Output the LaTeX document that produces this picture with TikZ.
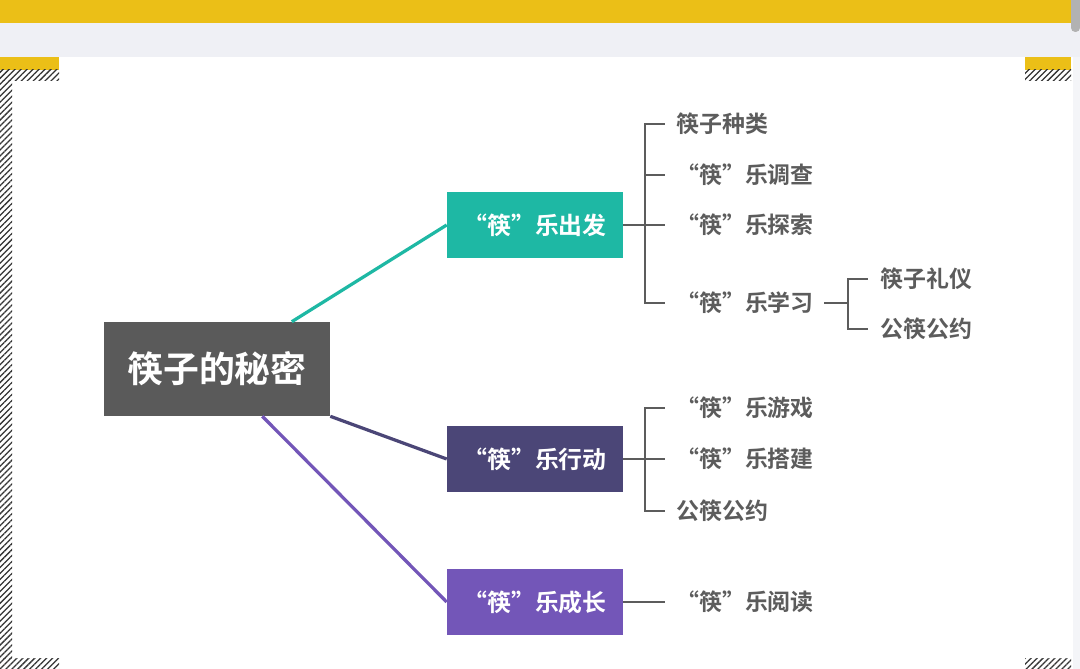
\documentclass[tikz,border=0pt]{standalone}
\usepackage{fontspec}
\newfontfamily\cjk{Noto Sans CJK SC}[BoldFont=* Bold]
\usetikzlibrary{positioning, calc, patterns.meta}

\definecolor{barYellow}{HTML}{EBBF17}
\definecolor{bandGray}{HTML}{EFF0F5}
\definecolor{rootGray}{HTML}{5A5A5A}
\definecolor{goTeal}{HTML}{1EB8A4}
\definecolor{actPurple}{HTML}{4B4677}
\definecolor{growPurple}{HTML}{7356B8}
\definecolor{leafGray}{HTML}{5C5C5C}

\begin{document}
\begin{tikzpicture}[
    x=0.025cm, y=-0.025cm,
    root/.style={fill=rootGray, text=white, minimum width=5.65cm,
      minimum height=2.35cm, inner sep=0pt,
      font=\cjk\bfseries\fontsize{25.5}{28}\selectfont},
    topic/.style={text=white, minimum width=4.4cm, minimum height=1.67cm,
      inner sep=0pt, font=\cjk\bfseries\fontsize{17}{20}\selectfont},
    leaf/.style={anchor=west, inner sep=0pt, text=leafGray,
      font=\cjk\bfseries\fontsize{16.3}{19}\selectfont},
    link/.style={line width=2.3pt},
    br/.style={draw=leafGray, line width=2pt},
    hatch/.style={pattern={Lines[angle=45, distance=3pt, line width=0.9pt]},
      pattern color=black!80}
  ]
  % page frame
  \useasboundingbox (0,0) rectangle (1080,669);
  \fill[white] (0,0) rectangle (1080,669);
  \fill[bandGray] (0,23) rectangle (1080,57);
  \fill[bandGray!70] (1073,57) rectangle (1080,669);
  \fill[barYellow] (0,0) rectangle (1071,23);
  \fill[black!30, rounded corners=3pt] (1071,-5) rectangle (1080,32);
  \fill[barYellow] (0,57) rectangle (59,70);
  \fill[barYellow] (1025,57) rectangle (1071,70);
  \fill[hatch] (0,70) rectangle (59,81);
  \fill[hatch] (0,81) rectangle (12,658);
  \fill[hatch] (0,658) rectangle (59,669);
  \fill[hatch] (1025,70) rectangle (1071,81);
  \fill[hatch] (1025,658) rectangle (1071,669);

  % main nodes
  \node[root] (root) at (217,369) {筷子的秘密};
  \node[topic, fill=goTeal] (go) at (535,225) {“筷”乐出发};
  \node[topic, fill=actPurple] (act) at (535,459) {“筷”乐行动};
  \node[topic, fill=growPurple] (grow) at (535,602) {“筷”乐成长};

  \draw[link, goTeal] ($(root.north west)!0.83!(root.north east)$) -- (go.west);
  \draw[link, actPurple] (root.south east) -- (act.west);
  \draw[link, growPurple] ($(root.south west)!0.7!(root.south east)$) -- (grow.west);

  % leaves of go
  \node[leaf] (kind) at (676,124) {筷子种类};
  \node[leaf] (survey) at (676,175) {“筷”乐调查};
  \node[leaf] (explore) at (676,225) {“筷”乐探索};
  \node[leaf] (learn) at (676,303) {“筷”乐学习};
  \node[leaf] (manner) at (880,279) {筷子礼仪};
  \node[leaf] (rule) at (880,329) {公筷公约};
  \coordinate (bgo) at (645,225);
  \coordinate (blearn) at (848,303);
  \draw[br] (go.east) -- ($(explore.west)+(-11,0)$);
  \draw[br] (bgo) |- ($(kind.west)+(-11,0)$);
  \draw[br] (bgo) |- ($(survey.west)+(-11,0)$);
  \draw[br] (bgo) |- ($(learn.west)+(-11,0)$);
  \draw[br] ($(learn.east)+(10,0)$) -- (blearn);
  \draw[br] (blearn) |- ($(manner.west)+(-12,0)$);
  \draw[br] (blearn) |- ($(rule.west)+(-12,0)$);

  % leaves of act
  \node[leaf] (game) at (676,408) {“筷”乐游戏};
  \node[leaf] (build) at (676,459) {“筷”乐搭建};
  \node[leaf] (pact) at (676,511) {公筷公约};
  \coordinate (bact) at (645,459);
  \draw[br] (act.east) -- ($(build.west)+(-11,0)$);
  \draw[br] (bact) |- ($(game.west)+(-11,0)$);
  \draw[br] (bact) |- ($(pact.west)+(-11,0)$);

  % leaves of grow
  \node[leaf] (read) at (676,602) {“筷”乐阅读};
  \draw[br] (grow.east) -- ($(read.west)+(-11,0)$);
\end{tikzpicture}
\end{document}
